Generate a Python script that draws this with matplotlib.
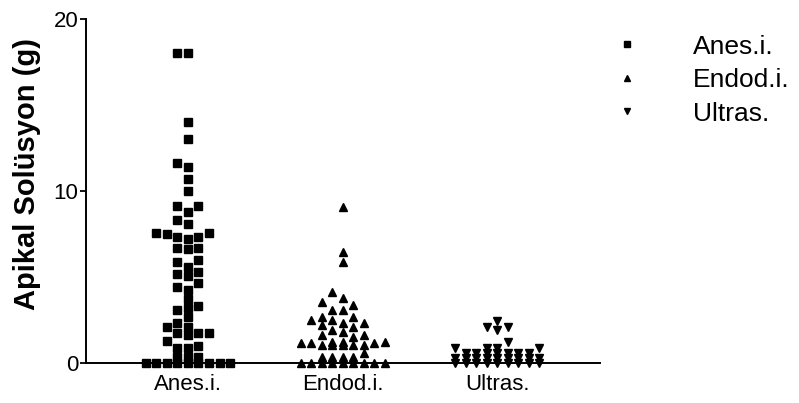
import numpy as np
import matplotlib
matplotlib.use("Agg")
import matplotlib.pyplot as plt
from matplotlib.lines import Line2D

plt.rcParams['font.family'] = ['Liberation Sans', 'DejaVu Sans']

# ---- data -------------------------------------------------------------
groups = ["Anes.i.", "Endod.i.", "Ultras."]
markers = ["s", "^", "v"]

anes = [18.0, 18.0, 14.0, 13.0, 11.6, 11.4, 10.7, 10.0, 9.1, 9.1, 8.8, 8.3,
        8.1, 7.55, 7.5, 7.3, 7.2, 7.3, 7.55, 6.7, 6.6, 6.7, 6.0, 5.9, 5.6,
        5.3, 5.2, 5.05, 4.65, 4.4, 4.25, 3.7, 3.3, 3.2, 3.1, 2.7, 2.3, 2.1,
        2.1, 1.75, 1.75, 1.6, 1.75, 1.3, 1.0, 0.9, 0.9,
        0.35, 0.35, 0.35, 0, 0, 0, 0, 0, 0, 0, 0, 0]
endod = [9.07, 6.45, 5.9, 4.1, 3.8, 3.55, 3.4, 3.1, 3.1, 2.7, 2.5, 2.3, 2.2,
         2.3, 2.5, 2.7, 2.1, 1.8, 1.6, 1.6, 1.9, 1.5, 1.2, 1.2, 1.15, 1.15,
         1.05, 1.05, 1.05, 1.05, 1.05, 1.15, 1.2, 0.6,
         0.35, 0.35, 0.35, 0.35, 0, 0, 0, 0, 0, 0, 0, 0, 0]
ultras = [2.45, 2.1, 1.9, 2.1, 1.2,
          0.9, 0.9, 0.9, 0.9,
          0.6, 0.6, 0.6, 0.6, 0.6, 0.6, 0.6,
          0.3, 0.3, 0.3, 0.3, 0.3, 0.3, 0.3, 0.3, 0.3,
          0, 0, 0, 0, 0, 0, 0, 0, 0]
series = [anes, endod, ultras]
yticks = [0, 10, 20]
ylabel = "Apikal Solüsyon (g)"


def column_scatter(values, step, tol, max_half=4):
    """Column scatter: lowest values first, each point goes to the nearest
    free slot (centre, then left/right alternately).  The column is at most
    2*max_half+1 slots wide; when no slot is free the point is stacked in
    the slot whose nearest neighbour is farthest away."""
    order = [0]
    for j in range(1, max_half + 1):
        order += [-j, j]
    vals = np.sort(np.asarray(values, dtype=float))
    placed = {k: [] for k in order}
    slots = []
    for v in vals:
        best, best_d = None, -1.0
        for k in order:
            d = min((abs(v - pv) for pv in placed[k]), default=np.inf)
            if d >= tol:
                best = k
                break
            if d > best_d + 1e-9:
                best, best_d = k, d
        placed[best].append(v)
        slots.append(best)
    return np.array(slots) * step, vals


fig = plt.figure(figsize=(7.99, 4.03), dpi=100)
ax = fig.add_axes([0.1076, 0.0993, 0.6436, 0.8536])

ms = 5.6
for i, (vals, mk, name) in enumerate(zip(series, markers, groups)):
    off, v = column_scatter(vals, step=0.068, tol=0.45)
    ax.plot(i + 1 + off, v, linestyle="none", marker=mk, markersize=ms,
            color="black", clip_on=False, zorder=3, label=name)

ax.set_xlim(0.34, 3.667)
ax.set_ylim(0, 20)
ax.set_yticks(yticks)
ax.set_xticks([1, 2, 3])
ax.set_xticklabels(groups)
ax.tick_params(axis="x", length=0, labelsize=16, pad=8)
ax.tick_params(axis="y", length=4.5, width=1.3, labelsize=16, pad=1)
for side in ("top", "right"):
    ax.spines[side].set_visible(False)
for side in ("left", "bottom"):
    ax.spines[side].set_linewidth(1.4)
ax.set_ylabel(ylabel, fontsize=21, fontweight="bold")
ax.yaxis.set_label_coords(-0.088, 0.55)

handles = [Line2D([], [], linestyle="none", marker=m, markersize=4.2,
                  color="black") for m in markers]
fig.legend(handles, groups, loc="upper left", bbox_to_anchor=(0.755, 0.94),
           frameon=False, fontsize=19, handlelength=1.0, handletextpad=2.0,
           labelspacing=0.36, borderaxespad=0)

fig.savefig("out.png", dpi=100)
